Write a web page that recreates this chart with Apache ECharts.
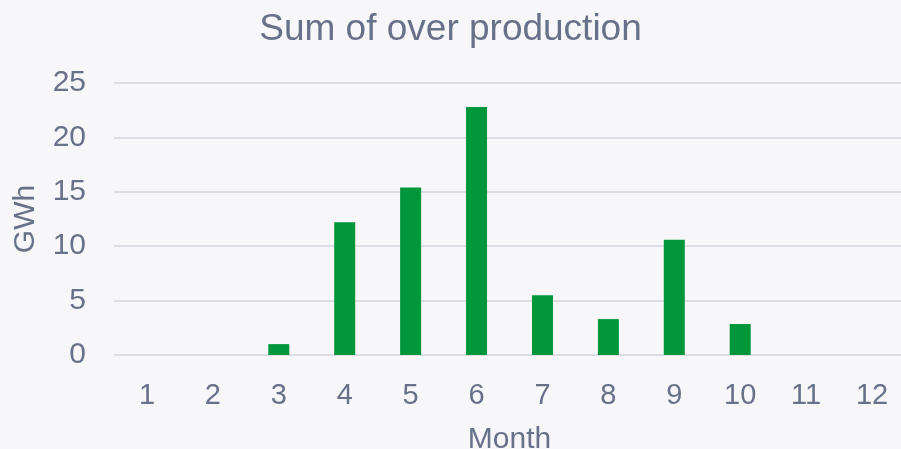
<!DOCTYPE html>
<html>
<head>
<meta charset="utf-8">
<script src="https://cdn.jsdelivr.net/npm/echarts@6/dist/echarts.min.js"></script>
<style>
html,body{margin:0;padding:0;background:#f7f7f9;}
#c{width:901px;height:449px;}
</style>
</head>
<body>
<div id="c"></div>
<script>
var months = ['1','2','3','4','5','6','7','8','9','10','11','12'];
var overProduction = [0, 0, 1.0, 12.2, 15.4, 22.8, 5.5, 3.3, 10.6, 2.85, 0, 0];
var yTicks = {min: 0, max: 25, interval: 5};

var textColor = '#68718a';
var font = 'Liberation Sans, Arial, sans-serif';
var chart = echarts.init(document.getElementById('c'), null, {renderer: 'canvas'});
chart.setOption({
  backgroundColor: '#f7f7f9',
  animation: false,
  title: {
    text: 'Sum of over production',
    left: 'center',
    top: 6,
    textStyle: {color: textColor, fontFamily: font, fontSize: 37, fontWeight: 'normal'}
  },
  grid: {left: 114, right: -4, top: 83, bottom: 94, containLabel: false, outerBoundsMode: 'none'},
  xAxis: {
    type: 'category',
    data: months,
    name: 'Month',
    nameLocation: 'middle',
    nameGap: 70,
    nameTextStyle: {color: textColor, fontFamily: font, fontSize: 30},
    axisLine: {show: false},
    axisTick: {show: false},
    axisLabel: {color: textColor, fontFamily: font, fontSize: 29, margin: 26}
  },
  yAxis: {
    type: 'value',
    min: yTicks.min,
    max: yTicks.max,
    interval: yTicks.interval,
    name: 'GWh',
    nameLocation: 'middle',
    nameGap: 73,
    nameTextStyle: {color: textColor, fontFamily: font, fontSize: 30},
    axisLine: {show: false},
    axisTick: {show: false},
    axisLabel: {color: textColor, fontFamily: font, fontSize: 30, margin: 28},
    splitLine: {lineStyle: {color: '#dcdce4', width: 2}}
  },
  series: [{
    type: 'bar',
    data: overProduction,
    barWidth: 21,
    itemStyle: {color: '#00963a'}
  }]
});
</script>
</body>
</html>
